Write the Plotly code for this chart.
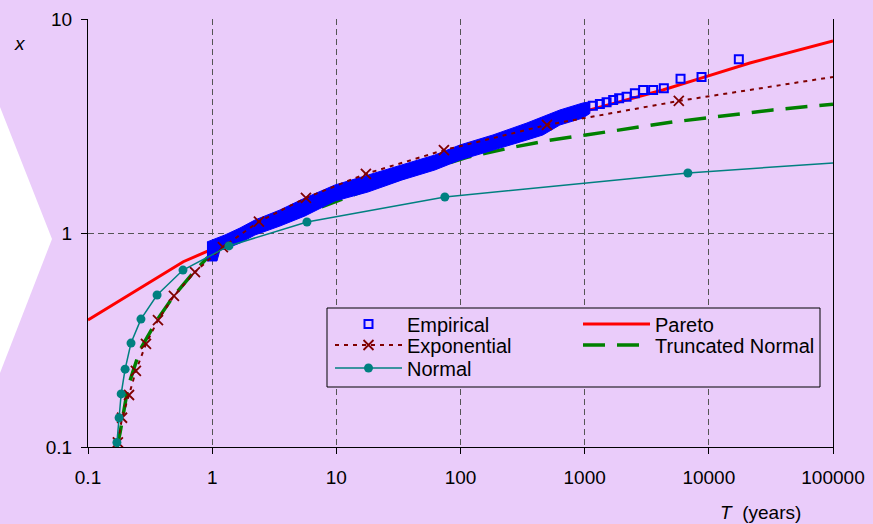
import plotly.graph_objects as go

# ---------------- data ----------------
# Empirical: dense part drawn as the envelope of the overlapping markers
band_T = [0.908, 0.996, 1.093, 1.156, 1.268, 1.674, 2.211, 3.515, 5.587, 9.74,
          17.96, 33.75, 62.2, 98.9, 182.4, 342.4, 460.7, 631.5, 967, 1101]
band_upper = [0.908, 0.927, 0.948, 0.958, 0.979, 1.055, 1.150, 1.281, 1.457, 1.676,
              1.866, 2.078, 2.315, 2.578, 2.871, 3.266, 3.484, 3.757, 4.051, 4.10]
band_lower = [0.740, 0.740, 0.740, 0.833, 0.842, 0.898, 0.979, 1.078, 1.201, 1.411,
              1.554, 1.769, 1.970, 2.193, 2.443, 2.720, 2.871, 3.197, 3.446, 3.62]
# Empirical: sparse upper tail points
emp_T = [1164, 1326, 1501, 1696, 1896, 2175, 2537, 2958, 3560, 4341, 5917, 8734, 17440]
emp_x = [3.935, 4.007, 4.08, 4.183, 4.26, 4.335, 4.495, 4.66, 4.66, 4.745, 5.26, 5.36, 6.48]

pareto_T = [0.1, 0.15, 0.262, 0.38, 0.585, 0.90, 1.27, 2.21, 5.59, 17.96, 98.9,
            342, 631, 1100, 4260, 8800, 21400, 100000]
pareto_x = [0.392, 0.452, 0.551, 0.625, 0.734, 0.818, 0.88, 1.06, 1.32, 1.7, 2.38,
            3.0, 3.45, 3.76, 4.66, 5.31, 6.23, 7.9]

exp_T = [0.174, 0.188, 0.214, 0.243, 0.293, 0.366, 0.492, 0.727, 1.22, 2.38, 5.69,
         17.3, 73.5, 497, 5730]
exp_x = [0.105, 0.137, 0.175, 0.227, 0.303, 0.392, 0.508, 0.657, 0.86, 1.13, 1.46,
         1.89, 2.44, 3.2, 4.14]
exp_end_T = 100000
exp_end_x = 5.36

tn_T = [0.171, 0.181, 0.210, 0.262, 0.360, 0.483, 0.70, 0.91, 1.27, 2.21, 5.59,
        17.96, 62.2, 113, 269, 515, 1023, 5100, 32700, 100000]
tn_x = [0.1, 0.116, 0.191, 0.284, 0.392, 0.502, 0.65, 0.764, 0.86, 1.0, 1.24,
        1.6, 2.03, 2.26, 2.52, 2.71, 2.87, 3.3, 3.76, 4.0]

normal_T = [0.171, 0.178, 0.185, 0.199, 0.222, 0.267, 0.36, 0.582, 1.365, 5.8,
            74.8, 6780]
normal_x = [0.105, 0.137, 0.177, 0.231, 0.306, 0.396, 0.513, 0.671, 0.87, 1.126,
            1.473, 1.908]
normal_end_T = 100000
normal_end_x = 2.124

x_ticks = [0.1, 1, 10, 100, 1000, 10000, 100000]
x_ticktext = ["0.1", "1", "10", "100", "1000", "10000", "100000"]
y_ticks = [0.1, 1, 10]
y_ticktext = ["0.1", "1", "10"]

# ---------------- styling ----------------
BG = "#EACCFA"
FONT = "Liberation Sans, Arial, sans-serif"
W, H = 873, 524
L, R, T, B = 88, 40, 19, 77
PW, PH = W - L - R, H - T - B


def px2paper_x(px):
    return (px - L) / PW


def px2paper_y(py):
    return (H - B - py) / PH


fig = go.Figure()

fig.add_trace(go.Scatter(x=pareto_T, y=pareto_x, mode="lines", name="Pareto",
                         line=dict(color="#FF0000", width=3), legend="legend",
                         legendrank=2))
fig.add_trace(go.Scatter(x=tn_T, y=tn_x, mode="lines", name="Truncated Normal",
                         line=dict(color="#008000", width=3.5, dash="22px,12px"),
                         legend="legend2", legendrank=2))
fig.add_trace(go.Scatter(x=band_T + band_T[::-1], y=band_upper + band_lower[::-1],
                         mode="lines", fill="toself", fillcolor="#0000FF",
                         line=dict(color="#0000FF", width=1), showlegend=False,
                         hoverinfo="skip"))
fig.add_trace(go.Scatter(x=emp_T, y=emp_x, mode="markers", name="Empirical",
                         marker=dict(symbol="square-open", size=8, color="#0000FF",
                                     line=dict(width=2, color="#0000FF")),
                         legend="legend", legendrank=1, cliponaxis=False))
fig.add_trace(go.Scatter(x=[exp_T[-1], exp_end_T], y=[exp_x[-1], exp_end_x],
                         mode="lines", showlegend=False,
                         line=dict(color="#800000", width=2, dash="4px,5px")))
fig.add_trace(go.Scatter(x=exp_T, y=exp_x, mode="lines+markers", name="Exponential",
                         line=dict(color="#800000", width=2, dash="4px,5px"),
                         marker=dict(symbol="x-thin", size=10,
                                     line=dict(width=1.8, color="#800000")),
                         legend="legend2", legendrank=1, cliponaxis=False))
fig.add_trace(go.Scatter(x=[normal_T[-1], normal_end_T], y=[normal_x[-1], normal_end_x],
                         mode="lines", showlegend=False,
                         line=dict(color="#008080", width=1.5)))
fig.add_trace(go.Scatter(x=normal_T, y=normal_x, mode="lines+markers", name="Normal",
                         line=dict(color="#008080", width=1.5),
                         marker=dict(symbol="circle", size=9, color="#008080"),
                         legend="legend3", legendrank=1, cliponaxis=False))

axis_common = dict(type="log", showline=True, linecolor="black", linewidth=1,
                   ticks="outside", ticklen=6, tickcolor="black",
                   showgrid=True, gridcolor="#555555", gridwidth=1,
                   griddash="6px,4px", zeroline=False,
                   tickfont=dict(family=FONT, size=19, color="black"),
                   automargin=False)

fig.update_xaxes(range=[-1, 5], tickvals=x_ticks, ticktext=x_ticktext,
                 ticklabelstandoff=7, **axis_common)
fig.update_yaxes(range=[-1, 1], tickvals=y_ticks, ticktext=y_ticktext,
                 mirror=True, ticklabelstandoff=5, **axis_common)

leg_common = dict(orientation="h", xanchor="left", yanchor="middle",
                  bgcolor="rgba(0,0,0,0)", borderwidth=0,
                  font=dict(family=FONT, size=20, color="black"),
                  entrywidth=166, entrywidthmode="pixels", itemwidth=67,
                  tracegroupgap=0, itemclick=False, itemdoubleclick=False)
lx = px2paper_x(330)

shapes = [
    dict(type="path", xref="paper", yref="paper",
         path=f"M {px2paper_x(-10)},{px2paper_y(81.6)} L {px2paper_x(52)},{px2paper_y(239)} "
              f"L {px2paper_x(-10)},{px2paper_y(398.8)} Z",
         fillcolor="white", line=dict(width=0), layer="below"),
    dict(type="rect", xref="paper", yref="paper",
         x0=px2paper_x(327), x1=px2paper_x(820), y0=px2paper_y(387), y1=px2paper_y(308),
         fillcolor=BG, line=dict(color="black", width=1), layer="above"),
]

fig.update_layout(
    width=W, height=H,
    margin=dict(l=L, r=R, t=T, b=B, pad=0),
    paper_bgcolor=BG, plot_bgcolor=BG,
    font=dict(family=FONT, color="black"),
    showlegend=True,
    legend=dict(x=lx, y=px2paper_y(324), **leg_common),
    legend2=dict(x=lx, y=px2paper_y(345), **leg_common),
    legend3=dict(x=lx, y=px2paper_y(368), **leg_common),
    shapes=shapes,
    annotations=[
        dict(text="<i>T</i>&nbsp;&nbsp;(years)", xref="paper", yref="paper",
             x=px2paper_x(718), y=px2paper_y(512), xanchor="left", yanchor="middle",
             showarrow=False, font=dict(family=FONT, size=19, color="black")),
        dict(text="<i>x</i>", xref="paper", yref="paper",
             x=px2paper_x(20), y=px2paper_y(43), xanchor="center", yanchor="middle",
             showarrow=False, font=dict(family=FONT, size=19, color="black")),
    ],
)

fig.write_html("out.html", config={"displayModeBar": False},
               post_script="document.body.style.margin='0px';"
                           "document.body.style.background='" + BG + "';")
